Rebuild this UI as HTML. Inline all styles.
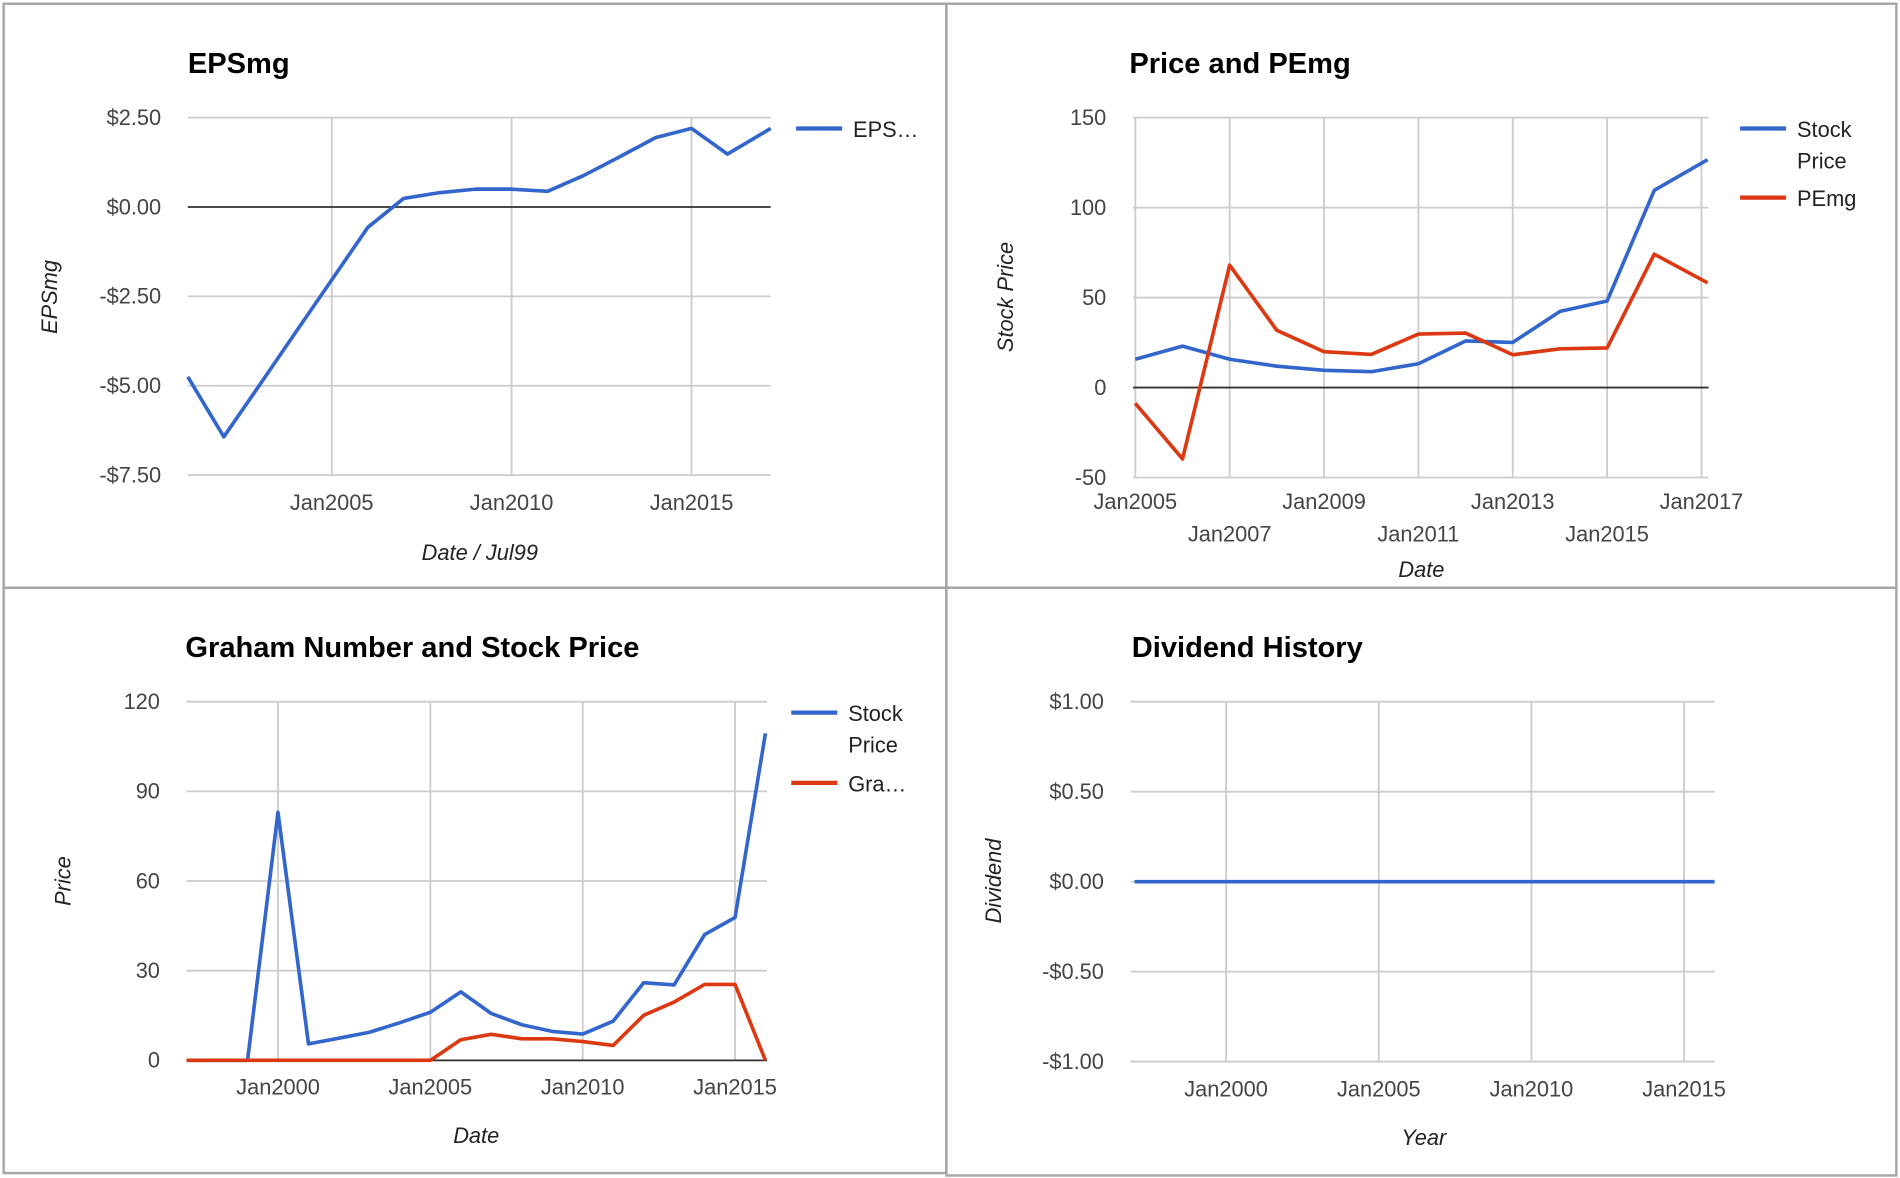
<!DOCTYPE html>
<html><head><meta charset="utf-8">
<style>
html,body{margin:0;padding:0;background:#fff;}
svg{display:block;}
text{font-family:"Liberation Sans",Arial,sans-serif;}
</style></head>
<body>
<svg id="root" width="1900" height="1178" viewBox="0 0 1568 972" xmlns="http://www.w3.org/2000/svg">
  <rect x="0" y="0" width="1568" height="972" fill="#fff"/>
  <g id="panels" fill="none" stroke="#a6a6a6" stroke-width="2">
    <rect x="3" y="3" width="778" height="482"/>
    <rect x="781" y="3" width="784" height="482"/>
    <rect x="3" y="485" width="778" height="483"/>
    <rect x="781" y="485" width="784" height="485"/>
  </g>
</svg>
<script>
// ---- Chart 1: EPSmg ----
const epsDates = [2001,2002,2003,2004,2005,2006,2007,2008,2009,2010,2011,2012,2013,2014,2015,2016,2017.2];
const epsValues = [-4.75,-6.43,-4.97,-3.5,-2.04,-0.57,0.24,0.40,0.50,0.50,0.44,0.88,1.40,1.94,2.20,1.48,2.20];
const epsYTicks = [2.5,0,-2.5,-5,-7.5];
const epsYLabels = ["$2.50","$0.00","-$2.50","-$5.00","-$7.50"];
const epsXTicks = [2005,2010,2015];
const epsXLabels = ["Jan2005","Jan2010","Jan2015"];

// ---- Chart 2: Price and PEmg ----
const pDates = [2005,2006,2007,2008,2009,2010,2011,2012,2013,2014,2015,2016,2017.13];
const pStock = [15.7,23.0,15.7,11.9,9.6,8.8,13.2,25.9,25.1,42.3,48.1,109.6,126.6];
const pPEmg = [-8.8,-39.7,68.0,31.8,19.9,18.4,29.7,30.3,18.2,21.5,22.0,74.1,58.2];
const pYTicks = [150,100,50,0,-50];
const pYLabels = ["150","100","50","0","-50"];
const pXTicks = [2005,2007,2009,2011,2013,2015,2017];
const pXLabels = ["Jan2005","Jan2007","Jan2009","Jan2011","Jan2013","Jan2015","Jan2017"];

// ---- Chart 3: Graham Number and Stock Price ----
const gDates = [1997,1998,1999,2000,2001,2002,2003,2004,2005,2006,2007,2008,2009,2010,2011,2012,2013,2014,2015,2016];
const gStock = [0,0,0,83,5.5,7.4,9.4,12.6,16.1,22.9,15.7,11.9,9.7,8.8,13.1,26.0,25.2,42.1,47.8,109.4];
const gGraham = [0,0,0,0,0,0,0,0,0,6.9,8.7,7.2,7.2,6.3,5.0,15.1,19.5,25.4,25.4,0];
const gYTicks = [120,90,60,30,0];
const gYLabels = ["120","90","60","30","0"];
const gXTicks = [2000,2005,2010,2015];
const gXLabels = ["Jan2000","Jan2005","Jan2010","Jan2015"];

// ---- Chart 4: Dividend History ----
const dDates = [1997,1998,1999,2000,2001,2002,2003,2004,2005,2006,2007,2008,2009,2010,2011,2012,2013,2014,2015,2016];
const dValues = [0,0,0,0,0,0,0,0,0,0,0,0,0,0,0,0,0,0,0,0];
const dYTicks = [1,0.5,0,-0.5,-1];
const dYLabels = ["$1.00","$0.50","$0.00","-$0.50","-$1.00"];
const dXTicks = [2000,2005,2010,2015];
const dXLabels = ["Jan2000","Jan2005","Jan2010","Jan2015"];

const NS = "http://www.w3.org/2000/svg";
const root = document.getElementById('root');
function mk(tag, attrs, parent, txt){
  const e = document.createElementNS(NS, tag);
  for (const k in attrs) e.setAttribute(k, attrs[k]);
  if (txt !== undefined) e.textContent = txt;
  parent.appendChild(e);
  return e;
}
const BLUE = "#3366cc", RED = "#dc3912";

function chart(cfg){
  const g = mk('g', {}, root);
  
  
  const sx = v => cfg.x0 + (v - cfg.xd[0]) / (cfg.xd[1] - cfg.xd[0]) * (cfg.x1 - cfg.x0);
  const sy = v => cfg.y1 + (v - cfg.yd[0]) / (cfg.yd[1] - cfg.yd[0]) * (cfg.y0 - cfg.y1);
  // title
  const t = mk('text', {x: cfg.tx, y: cfg.ty, 'font-size': 24, 'font-weight': 'bold', fill: '#000'}, g, cfg.title);
  
  
  // gridlines
  cfg.yt.forEach((v, i) => {
    const l = mk('line', {x1: cfg.x0, x2: cfg.x1, y1: sy(v), y2: sy(v), stroke: '#cccccc', 'stroke-width': 1.5}, g);
    
    
    const lb = mk('text', {x: cfg.x0 - 22, y: sy(v) + 6, 'font-size': 18, fill: '#444', 'text-anchor': 'end'}, g, cfg.yl[i]);
    
    
  });
  cfg.xt.forEach((v, i) => {
    const l = mk('line', {x1: sx(v), x2: sx(v), y1: cfg.y0, y2: cfg.y1, stroke: '#cccccc', 'stroke-width': 1.5}, g);
    
    
    const row = cfg.twoRow ? (i % 2) : 0;
    const lb = mk('text', {x: sx(v), y: cfg.xly + row * 27, 'font-size': 18, fill: '#444', 'text-anchor': 'middle'}, g, cfg.xl[i]);
    
    
  });
  if (cfg.zero) {
    const z = mk('line', {x1: cfg.x0, x2: cfg.x1, y1: sy(0), y2: sy(0), stroke: '#333', 'stroke-width': 1.5}, g);
    
    
  }
  // series
  cfg.series.forEach(s => {
    const pts = cfg.dates.map((d, i) => sx(d).toFixed(1) + ',' + sy(s.values[i]).toFixed(1)).join(' ');
    const p = mk('polyline', {points: pts, fill: 'none', stroke: s.color, 'stroke-width': 3, 'stroke-linejoin': 'round'}, g);
    
    
  });
  // axis titles
  const xt = mk('text', {x: cfg.xtx, y: cfg.xty, 'font-size': 18, 'font-style': 'italic', fill: '#222', 'text-anchor': 'middle'}, g, cfg.xTitle);
  
  
  const yt = mk('text', {x: 0, y: 0, 'font-size': 18, 'font-style': 'italic', fill: '#222', 'text-anchor': 'middle', transform: `translate(${cfg.ytx},${cfg.yty}) rotate(-90)`}, g, cfg.yTitle);
  
  
  // legend
  (cfg.legend || []).forEach(L => {
    const lg = mk('g', {}, g);
    
    
    mk('line', {x1: L.x, x2: L.x + 38, y1: L.y, y2: L.y, stroke: L.color, 'stroke-width': 3.5}, lg);
    L.lines.forEach((txt, k) => {
      mk('text', {x: L.x + 47, y: L.y + 7 + k * 26, 'font-size': 18, fill: '#222'}, lg, txt);
    });
  });
}

chart({name:'epsmg-chart', title:'EPSmg', tx:155, ty:60,
  x0:155, x1:636, y0:97, y1:392, xd:[2001,2017.2], yd:[-7.5,2.5],
  yt:epsYTicks, yl:epsYLabels, xt:epsXTicks, xl:epsXLabels, xly:421, zero:true,
  dates:epsDates, series:[{name:'epsmg-line', values:epsValues, color:BLUE}],
  xTitle:'Date / Jul99', xtx:396, xty:462, yTitle:'EPSmg', ytx:47, yty:245,
  legend:[{x:657, y:106, color:BLUE, lines:['EPS…']}]});

chart({name:'price-pemg-chart', title:'Price and PEmg', tx:932, ty:60,
  x0:935, x1:1410, y0:97, y1:394, xd:[2004.95,2017.15], yd:[-50,150],
  yt:pYTicks, yl:pYLabels, xt:pXTicks, xl:pXLabels, xly:420, twoRow:true, zero:true,
  dates:pDates, series:[{name:'stock-price-line', values:pStock, color:BLUE},{name:'pemg-line', values:pPEmg, color:RED}],
  xTitle:'Date', xtx:1173, xty:476, yTitle:'Stock Price', ytx:836, yty:245,
  legend:[{x:1436, y:106, color:BLUE, lines:['Stock','Price']},{x:1436, y:163, color:RED, lines:['PEmg']}]});

chart({name:'graham-chart', title:'Graham Number and Stock Price', tx:153, ty:542,
  x0:154, x1:633, y0:579, y1:875, xd:[1997,2016.05], yd:[0,120],
  yt:gYTicks, yl:gYLabels, xt:gXTicks, xl:gXLabels, xly:903, zero:true,
  dates:gDates, series:[{name:'stock-price-line', values:gStock, color:BLUE},{name:'graham-number-line', values:gGraham, color:RED}],
  xTitle:'Date', xtx:393, xty:943, yTitle:'Price', ytx:58, yty:727,
  legend:[{x:653, y:588, color:BLUE, lines:['Stock','Price']},{x:653, y:646, color:RED, lines:['Gra…']}]});

chart({name:'dividend-chart', title:'Dividend History', tx:934, ty:542,
  x0:933, x1:1415, y0:579, y1:876, xd:[1996.87,2016.0], yd:[-1,1],
  yt:dYTicks, yl:dYLabels, xt:dXTicks, xl:dXLabels, xly:905, zero:false,
  dates:dDates, series:[{name:'dividend-line', values:dValues, color:BLUE}],
  xTitle:'Year', xtx:1175, xty:945, yTitle:'Dividend', ytx:826, yty:727,
  legend:[]});
</script>
</body></html>
